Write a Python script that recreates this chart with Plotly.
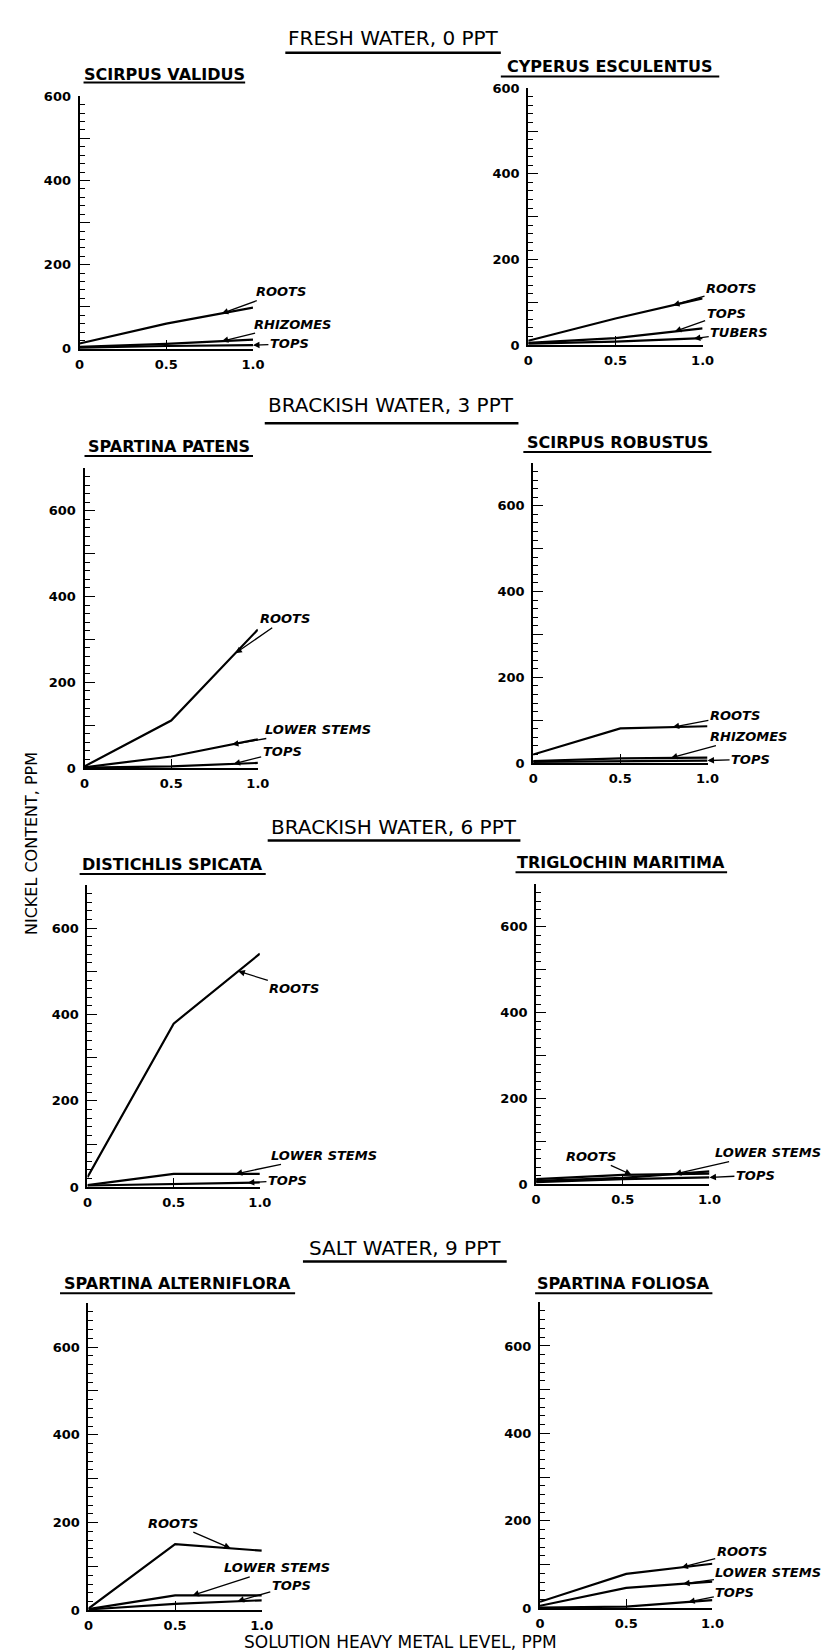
import numpy as np
import plotly.graph_objects as go

W, H = 832, 1651

# ---------------- data (solution level, ppm -> nickel content, ppm) ----------------
X = [0, 0.5, 1.0]

sv_roots = [13, 60, 98]
sv_rhizomes = [5, 12, 22]
sv_tops = [3, 7, 9]

ce_roots = [10, 62, 109]
ce_tops = [5, 16, 39]
ce_tubers = [3, 8, 16]

sp_roots = [4, 111, 323]
sp_lower = [2, 27, 67]
sp_tops = [1, 4, 12]

sr_roots = [20, 81, 86]
sr_rhizomes = [5, 11, 13]
sr_tops = [3, 5, 6]

ds_roots = [23, 379, 541]
ds_lower = [5, 31, 31]
ds_tops = [4, 8, 11]

tm_roots = [12, 22, 25]
tm_lower = [8, 15, 30]
tm_tops = [5, 12, 16]

sa_roots = [4, 151, 136]
sa_lower = [3, 34, 34]
sa_tops = [2, 15, 23]

sf_roots = [15, 79, 102]
sf_lower = [6, 47, 61]
sf_tops = [2, 4, 19]

x_ticks = [0, 0.5, 1.0]
x_ticktext = ["0", "0.5", "1.0"]

sections = ["FRESH WATER, 0 PPT", "BRACKISH WATER, 3 PPT",
            "BRACKISH WATER, 6 PPT", "SALT WATER, 9 PPT"]

# ---------------- layout of panels (pixel boxes) ----------------
panels = [
    dict(title="SCIRPUS VALIDUS", ymax=600, box=(68, 245, 337, 82),
         tline=(72, 237, 60, 68),
         series=[sv_roots, sv_rhizomes, sv_tops],
         labels=[("ROOTS", 0, 0.82, 1.164, 136), ("RHIZOMES", 1, 0.82, 1.226, 59),
                 ("TOPS", 2, 1.0, 1.21, 12)]),
    dict(title="CYPERUS ESCULENTUS", ymax=600, box=(526, 704, 333, 74),
         tline=(498, 721, 52, 62),
         series=[ce_roots, ce_tops, ce_tubers],
         labels=[("ROOTS", 0, 0.83, 1.163, 132), ("TOPS", 1, 0.84, 1.135, 74),
                 ("TUBERS", 2, 0.95, 1.21, 28)]),
    dict(title="SPARTINA PATENS", ymax=700, box=(73, 250, 760, 457),
         tline=(73, 245, 435, 445),
         series=[sp_roots, sp_lower, sp_tops],
         labels=[("ROOTS", 0, 0.87, 1.158, 348), ("LOWER STEMS", 1, 0.85, 1.345, 90),
                 ("TOPS", 2, 0.86, 1.14, 39)]),
    dict(title="SCIRPUS ROBUSTUS", ymax=700, box=(531, 709, 755, 452),
         tline=(521, 713, 431, 441),
         series=[sr_roots, sr_rhizomes, sr_tops],
         labels=[("ROOTS", 0, 0.80, 1.157, 111), ("RHIZOMES", 1, 0.79, 1.236, 62),
                 ("TOPS", 2, 1.0, 1.247, 9)]),
    dict(title="DISTICHLIS SPICATA", ymax=700, box=(76, 252, 1183, 878),
         tline=(68, 258, 857, 867),
         series=[ds_roots, ds_lower, ds_tops],
         labels=[("ROOTS", 0, 0.875, 1.20, 460), ("LOWER STEMS", 1, 0.86, 1.37, 74),
                 ("TOPS", 2, 0.93, 1.16, 16)]),
    dict(title="TRIGLOCHIN MARITIMA", ymax=700, box=(534, 711, 1180, 877),
         tline=(513, 729, 855, 865),
         series=[tm_roots, tm_lower, tm_tops],
         labels=[("ROOTS", 0, 0.55, 0.316, 65), ("LOWER STEMS", 1, 0.80, 1.34, 74),
                 ("TOPS", 2, 1.0, 1.265, 21)]),
    dict(title="SPARTINA ALTERNIFLORA", ymax=700, box=(77, 254, 1610, 1300),
         tline=(48, 288, 1280, 1290),
         series=[sa_roots, sa_lower, sa_tops],
         labels=[("ROOTS", 0, 0.82, 0.486, 199), ("LOWER STEMS", 1, 0.60, 1.09, 97),
                 ("TOPS", 2, 0.86, 1.17, 56)]),
    dict(title="SPARTINA FOLIOSA", ymax=700, box=(538, 714, 1608, 1299),
         tline=(533, 714, 1280, 1290),
         series=[sf_roots, sf_lower, sf_tops],
         labels=[("ROOTS", 0, 0.82, 1.17, 129), ("LOWER STEMS", 1, 0.83, 1.325, 82),
                 ("TOPS", 2, 0.86, 1.13, 36)]),
]

section_pos = [(388, 23, 278, 498, 38), (386, 394, 257, 516, 412),
               (389, 819, 260, 518, 833), (400, 1244, 296, 504, 1258)]

FONT = "DejaVu Sans"

def px(x):
    return x / W

def py(y):
    return 1 - y / H

fig = go.Figure()
annotations = []
shapes = []

for i, p in enumerate(panels, start=1):
    sfx = "" if i == 1 else str(i)
    xl, xr, yb, yt = p["box"]
    for s in p["series"]:
        fig.add_trace(go.Scatter(x=X, y=s, mode="lines", xaxis="x" + sfx, yaxis="y" + sfx,
                                 line=dict(color="black", width=2.2), cliponaxis=False,
                                 showlegend=False, hoverinfo="skip"))
    ymax = p["ymax"]
    yvals = list(range(0, ymax + 1, 100))
    ytext = [str(v) if v % 200 == 0 else "" for v in yvals]
    fig.update_layout(**{
        "xaxis" + sfx: dict(domain=[px(xl), px(xr)], anchor="y" + sfx, range=[0, 1.0],
                            showgrid=False, zeroline=False, showline=True, linecolor="black",
                            linewidth=2, ticks="inside", ticklen=9, tickwidth=1.3,
                            tickcolor="black", tickmode="array", tickvals=x_ticks,
                            ticktext=x_ticktext, ticklabelstandoff=2,
                            tickfont=dict(family=FONT, size=13, color="black", weight="bold")),
        "yaxis" + sfx: dict(domain=[py(yb), py(yt)], anchor="x" + sfx, range=[0, ymax],
                            showgrid=False, zeroline=False, showline=True, linecolor="black",
                            linewidth=2, ticks="inside", ticklen=10, tickwidth=1.3,
                            tickcolor="black", tickmode="array", tickvals=yvals, ticktext=ytext,
                            ticklabelstandoff=4,
                            minor=dict(dtick=20, tick0=0, ticks="inside", ticklen=5,
                                       tickwidth=1, tickcolor="black"),
                            tickfont=dict(family=FONT, size=13, color="black", weight="bold")),
    })
    tx0, tx1, tyc, tyl = p["tline"]
    annotations.append(dict(text=p["title"], x=px((tx0 + tx1) / 2), y=py(tyc), xref="paper",
                            yref="paper", showarrow=False, xanchor="center", yanchor="middle",
                            font=dict(family=FONT, size=16, color="black", weight="bold")))
    shapes.append(dict(type="line", xref="paper", yref="paper", x0=px(tx0), x1=px(tx1),
                       y0=py(tyl), y1=py(tyl), line=dict(color="black", width=2)))
    for name, si, tipx, lx, ly in p["labels"]:
        tipy = float(np.interp(tipx, X, p["series"][si]))
        annotations.append(dict(text="<b><i>" + name + "</i></b>", x=tipx, y=tipy,
                                xref="x" + sfx, yref="y" + sfx, axref="x" + sfx, ayref="y" + sfx,
                                ax=lx, ay=ly, showarrow=True, arrowhead=2, arrowsize=1,
                                arrowwidth=1.3, arrowcolor="black",
                                font=dict(family=FONT, size=13, color="black")))

for name, (cx, cy, ux0, ux1, uy) in zip(sections, section_pos):
    annotations.append(dict(text=name, x=px(cx), y=py(cy), xref="paper", yref="paper",
                            showarrow=False, xanchor="center", yanchor="middle",
                            font=dict(family=FONT, size=20, color="black")))
    shapes.append(dict(type="line", xref="paper", yref="paper", x0=px(ux0), x1=px(ux1),
                       y0=py(uy), y1=py(uy), line=dict(color="black", width=2.5)))

annotations.append(dict(text="NICKEL CONTENT, PPM", x=px(19), y=py(836), xref="paper",
                        yref="paper", showarrow=False, textangle=-90, xanchor="center",
                        yanchor="middle", font=dict(family=FONT, size=16, color="black")))
annotations.append(dict(text="SOLUTION HEAVY METAL LEVEL, PPM", x=px(396), y=py(1642),
                        xref="paper", yref="paper", showarrow=False, xanchor="center",
                        yanchor="middle", font=dict(family=FONT, size=17, color="black")))

fig.update_layout(width=W, height=H, margin=dict(l=0, r=0, t=0, b=0),
                  paper_bgcolor="white", plot_bgcolor="white",
                  annotations=annotations, shapes=shapes, showlegend=False)

fig.write_html("out.html")
